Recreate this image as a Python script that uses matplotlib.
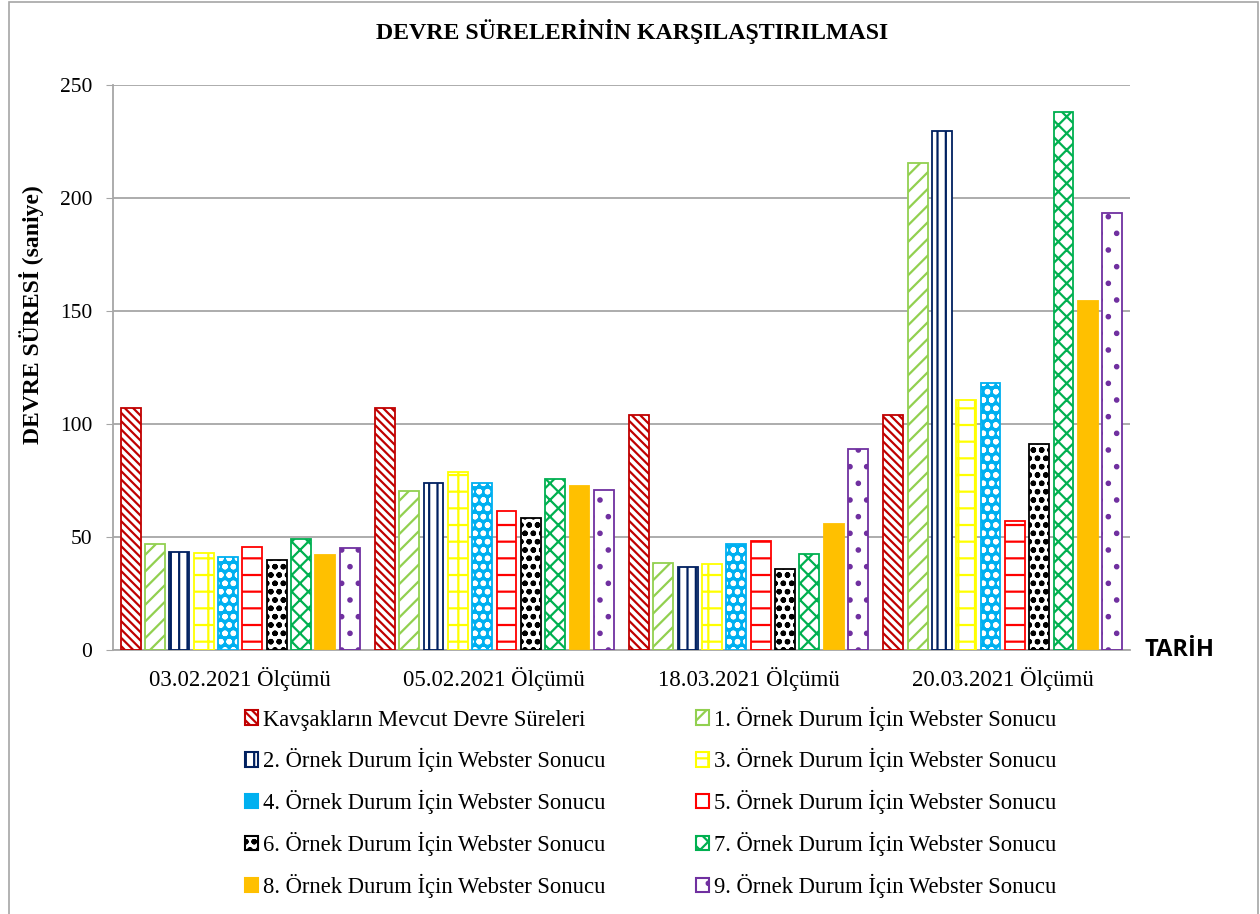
import numpy as np
import matplotlib.pyplot as plt
from matplotlib.patches import Rectangle, Patch

plt.rcParams['font.family'] = ['Liberation Serif', 'DejaVu Serif']
plt.rcParams['hatch.linewidth'] = 1.6

dates = ["03.02.2021 Ölçümü", "05.02.2021 Ölçümü", "18.03.2021 Ölçümü", "20.03.2021 Ölçümü"]
labels = ["Kavşakların Mevcut Devre Süreleri"] + \
    ["%d. Örnek Durum İçin Webster Sonucu" % i for i in range(1, 10)]

mevcut = [107, 107, 104, 104]
webster1 = [47, 70.5, 38.6, 215.7]
webster2 = [43.5, 74, 36.6, 229.6]
webster3 = [43, 79, 38, 110.8]
webster4 = [41, 74, 47, 118.4]
webster5 = [45.4, 61.6, 48.2, 57.3]
webster6 = [40, 58.4, 35.8, 91.3]
webster7 = [49.3, 75.5, 42.6, 238]
webster8 = [42, 72.4, 56, 154.5]
webster9 = [45.3, 71, 89, 193.3]
series = [mevcut, webster1, webster2, webster3, webster4,
          webster5, webster6, webster7, webster8, webster9]

# (edge colour, face colour, hatch, hatch colour)
styles = [
    ("#C00000", "white", "\\\\\\\\", "#C00000"),
    ("#92D050", "white", "//", "#92D050"),
    ("#002060", "white", "||", "#002060"),
    ("#FFFF00", "white", "+", "#FFFF00"),
    ("#00B0F0", "#00B0F0", "oo", "white"),
    ("#FF0000", "white", "-", "#FF0000"),
    ("#000000", "white", "oo", "#000000"),
    ("#00B050", "white", "xx", "#00B050"),
    ("#FFC000", "#FFC000", None, None),
    ("#7030A0", "white", ".", "#7030A0"),
]

fig = plt.figure(figsize=(12.6, 9.14), dpi=100)
ax = fig.add_axes([0.0897, 0.2888, 0.807, 0.618])

x = np.arange(len(dates))
step = 0.0957
width = 0.078
for i, (vals, st) in enumerate(zip(series, styles)):
    ec, fc, h, hc = st
    pos = x + (i - 4.5) * step
    ax.bar(pos, vals, width, color=fc, edgecolor='none', zorder=2)
    if h:
        ax.bar(pos, vals, width, color='none', edgecolor=hc, hatch=h, linewidth=0, zorder=3)
    ax.bar(pos, vals, width, color='none', edgecolor=ec, linewidth=1.3, zorder=4)

ax.set_xlim(-0.5, 3.5)
ax.set_ylim(0, 250)
ax.set_yticks(np.arange(0, 251, 50))
ax.set_xticks(x)
ax.set_xticklabels(dates, fontsize=16.5)
ax.tick_params(axis='y', labelsize=15.5, length=5, pad=10, color='#A6A6A6')
ax.tick_params(axis='x', length=0, pad=12)
ax.yaxis.grid(True, color='#A6A6A6', linewidth=1.3, zorder=0)
ax.set_axisbelow(True)
for s in ['top', 'right']:
    ax.spines[s].set_visible(False)
for s in ['left', 'bottom']:
    ax.spines[s].set_color('#A6A6A6')
    ax.spines[s].set_linewidth(1.3)

ax.set_ylabel("DEVRE SÜRESİ (saniye)", fontsize=17, fontweight='bold')
ax.yaxis.set_label_coords(-0.068, 0.593)
fig.text(0.502, 0.966, "DEVRE SÜRELERİNİN KARŞILAŞTIRILMASI", ha='center', va='center',
         fontsize=17.2, fontweight='bold')
fig.text(0.908, 0.289, "TARİH", ha='left', va='center', fontsize=17, fontweight='bold',
         family=['Open Sans', 'DejaVu Sans'])

handles = []
for ec, fc, h, hc in styles:
    handles.append(Patch(facecolor=fc, edgecolor=ec, hatch=h, linewidth=1.5))
order = [0, 2, 4, 6, 8, 1, 3, 5, 7, 9]
leg = fig.legend([handles[k] for k in order], [labels[k] for k in order],
                 loc='upper left', bbox_to_anchor=(0.178, 0.2494), ncol=2, frameon=False,
                 fontsize=16.3, handlelength=0.6, handleheight=0.6, handletextpad=0.2,
                 columnspacing=4.0, labelspacing=0.78)

fig.patches.append(Rectangle((9 / 1260, -0.01), 1249 / 1260, 1.01 - 2 / 914,
                             transform=fig.transFigure, fill=False,
                             edgecolor='#A6A6A6', linewidth=1.2))

fig.savefig("out.png", dpi=100)
